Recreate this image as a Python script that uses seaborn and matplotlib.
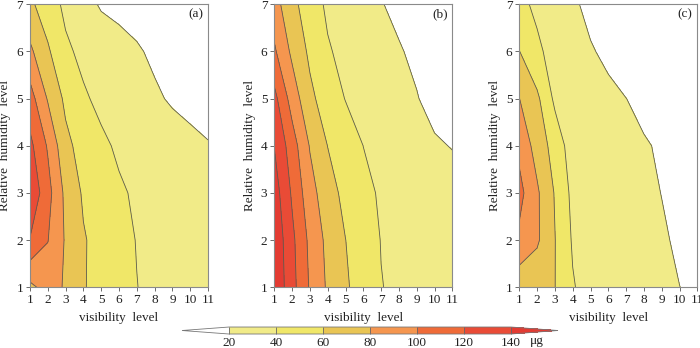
import numpy as np
import matplotlib
matplotlib.use("Agg")
import matplotlib.pyplot as plt
import seaborn as sns

# grid: visibility level (x) and relative humidity level (y)
vis_levels = [1, 2, 3, 4, 5, 6, 7, 8, 9, 10, 11]
rh_levels = [1, 2, 3, 4, 5, 6, 7]

# values, one row per humidity level (1 -> 7)
conc_a = [
    [75, 88, 78, 61, 55, 48, 40.3, 36, 33, 30, 27],
    [119, 100.6, 78, 61.6, 53.3, 45.9, 39.4, 36.5, 33.5, 30.5, 28],
    [136, 107, 75.2, 57.5, 49.7, 42, 38, 35.2, 32.5, 29.7, 27],
    [125, 98, 65.2, 52.2, 43, 37.7, 34.4, 31, 27.7, 24.3, 21],
    [108.5, 78.4, 55.8, 42.2, 36.2, 31.6, 27.1, 22.5, 18, 15, 13],
    [84, 62.8, 43.1, 36, 31.3, 26.6, 21.9, 17, 14, 12, 10],
    [64, 49, 36.2, 26.8, 18, 15, 13, 11, 10, 9, 8],
]
conc_b = [
    [157, 126.7, 98, 77.2, 62.6, 51.2, 40.5, 37, 34, 31, 28],
    [155.4, 124.6, 95.3, 74.8, 60.2, 49.2, 39.5, 36.5, 33.5, 30.5, 28],
    [149.7, 117.3, 87.7, 68.2, 54.6, 44.2, 38.1, 34.8, 31.5, 28.3, 25],
    [139.5, 109.5, 78.7, 59.7, 49.9, 39.9, 35.6, 31.2, 26.8, 21.5, 19.5],
    [126, 91.5, 64.6, 50.2, 39.4, 34.8, 30.3, 25.7, 20.6, 16, 15],
    [103, 75.9, 56.2, 41.6, 35.6, 30.8, 25.9, 21, 17.5, 15, 13],
    [87.7, 66.2, 48.2, 37.2, 31.6, 26.1, 20.6, 17, 14.5, 12.5, 11],
]
conc_c = [
    [66, 65, 60.3, 41.5, 32, 29.6, 27.2, 24.8, 22.4, 20.1, 17.6],
    [96, 83, 60.5, 38, 34.7, 31.4, 28.1, 24.8, 21.5, 18.2, 15],
    [106, 83, 58.6, 35, 32, 29, 25.9, 22.9, 19.8, 17, 15],
    [95, 72, 52, 30, 27.7, 25.5, 23.2, 21, 18.7, 16.5, 14],
    [80.3, 64, 36, 32, 28, 24.1, 20.1, 17, 14, 12, 10],
    [60.5, 42.8, 34.6, 28.1, 21.6, 16.2, 13, 11, 10, 9, 8],
    [43.8, 37, 30, 23.1, 15, 13, 12, 11, 10, 9, 8],
]

contour_levels = [20, 40, 60, 80, 100, 120, 140]
fill_colors = ["#ffffff", "#f1eb88", "#f0e768", "#e9c554", "#f5964f",
               "#ef6b38", "#e94b36", "#e33b32"]
panel_tags = ["(a)", "(b)", "(c)"]

sns.set_theme(style="ticks")
plt.rcParams["font.family"] = ["Liberation Serif", "DejaVu Serif"]
plt.rcParams["axes.edgecolor"] = "#8a8a8a"
plt.rcParams["xtick.color"] = "#555555"
plt.rcParams["ytick.color"] = "#555555"
plt.rcParams["xtick.labelcolor"] = "#222222"
plt.rcParams["ytick.labelcolor"] = "#222222"

fig = plt.figure(figsize=(7.0, 3.48), dpi=100)

X, Y = np.meshgrid(vis_levels, rh_levels)
lefts = [30.0 / 700, 274.3 / 700, 519.3 / 700]

cs = None
for left, conc, tag in zip(lefts, [conc_a, conc_b, conc_c], panel_tags):
    ax = fig.add_axes([left, 0.1744, 178.0 / 700, 0.8132])
    Z = np.array(conc)
    cs = ax.contourf(X, Y, Z, levels=contour_levels, colors=fill_colors, extend="both")
    ax.contour(X, Y, Z, levels=contour_levels, colors="#5c5c50", linewidths=0.6)
    ax.set_xlim(1, 11)
    ax.set_ylim(1, 7)
    ax.set_xticks(vis_levels)
    ax.set_yticks(rh_levels)
    ax.tick_params(direction="out", length=3, width=0.6, labelsize=9.5, pad=2)
    for sp in ax.spines.values():
        sp.set_linewidth(0.8)
    ax.set_xlabel("visibility  level", fontsize=9.5, color="#222222")
    ax.set_ylabel("Relative  humidity  level", fontsize=9.5, color="#222222")
    ax.xaxis.set_label_coords(0.5, -0.088)
    ax.yaxis.set_label_coords(-0.105, 0.5)
    ax.text(0.93, 0.965, tag, transform=ax.transAxes, ha="center", va="center",
            fontsize=9.5, color="#222222")

# horizontal colour bar with triangular ends (axes spans the triangles too)
cax = fig.add_axes([182.0 / 700, 0.0402, 376.0 / 700, 0.0201])
cb = fig.colorbar(cs, cax=cax, orientation="horizontal", extendfrac=0.167,
                  drawedges=True, ticks=contour_levels)
cb.outline.set_edgecolor("#777777")
cb.outline.set_linewidth(0.6)
cb.dividers.set_color("#666666")
cb.dividers.set_linewidth(0.6)
cax.tick_params(length=0, labelsize=9.5, pad=2)
fig.text(537.0 / 700, 0.02, "μg", ha="center", va="center", fontsize=9.5, color="#222222")

fig.savefig("out.png", dpi=100)
